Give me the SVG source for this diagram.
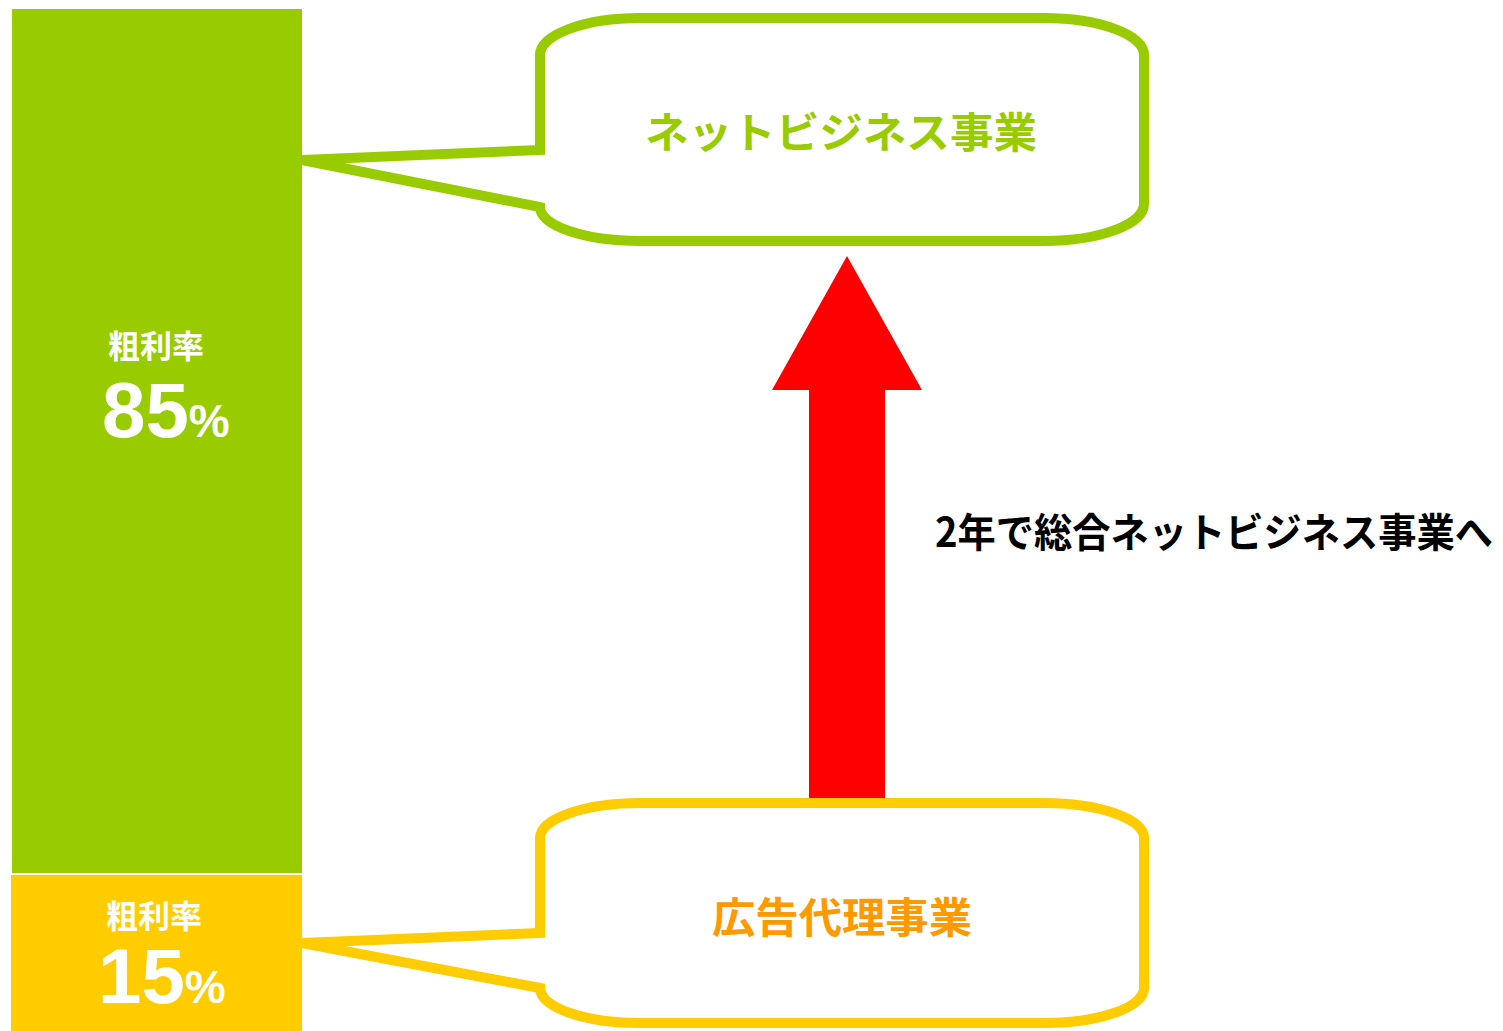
<svg xmlns="http://www.w3.org/2000/svg" width="1503" height="1031" viewBox="0 0 1503 1031">
<style>
.lbl{font-family:"Noto Sans CJK JP","Liberation Sans",sans-serif;text-anchor:middle}
.w{fill:#ffffff;font-weight:bold}
.num{font-family:"Liberation Sans",Arial,sans-serif;font-weight:bold;fill:#ffffff}
.callout{fill:#ffffff;stroke-width:10;stroke-linejoin:miter}
</style>
<rect width="1503" height="1031" fill="#ffffff"/>
<g id="bar-net">
<rect x="12" y="9" width="290" height="864" fill="#99cc00"/>
<text class="lbl w" x="156" y="358" font-size="32">粗利率</text>
<text class="num" x="102" y="437" font-size="78">85<tspan font-size="46">%</tspan></text>
</g>
<g id="bar-ad">
<rect x="11" y="875" width="291" height="156" fill="#ffcc00"/>
<text class="lbl w" x="154" y="928" font-size="32">粗利率</text>
<text class="num" x="98" y="1003" font-size="78">15<tspan font-size="46">%</tspan></text>
</g>
<g id="connectors">
<polygon points="847,256 922,390 885,390 885,798 809,798 809,390 772,390" fill="#ff0000"/>
</g>
<g id="node-net">
<path class="callout" stroke="#99cc00" d="M540,150 L540,55 A100,37 0 0 1 640,18 L1044,18 A100,37 0 0 1 1144,55 L1144,204 A100,37 0 0 1 1044,241 L640,241 A100,34 0 0 1 540,207 L302,160 Z"/>
<text class="lbl" x="841" y="148" font-size="42" font-weight="bold" fill="#99cc00" textLength="392" lengthAdjust="spacingAndGlyphs">ネットビジネス事業</text>
</g>
<g id="node-ad">
<path class="callout" stroke="#ffcc00" d="M540,933 L540,838 A100,35 0 0 1 640,803 L1044,803 A100,35 0 0 1 1144,838 L1144,988 A100,35 0 0 1 1044,1023 L640,1023 A100,35 0 0 1 540,988 L302,943 Z"/>
<text class="lbl" x="842" y="933" font-size="42" font-weight="bold" fill="#ff9900" textLength="260" lengthAdjust="spacingAndGlyphs">広告代理事業</text>
</g>
<g id="label-transition">
<text x="935" y="547" font-family="Noto Sans CJK JP,Liberation Sans,sans-serif" font-size="40" font-weight="bold" fill="#000000" textLength="558" lengthAdjust="spacingAndGlyphs">2年で総合ネットビジネス事業へ</text>
</g>
</svg>
